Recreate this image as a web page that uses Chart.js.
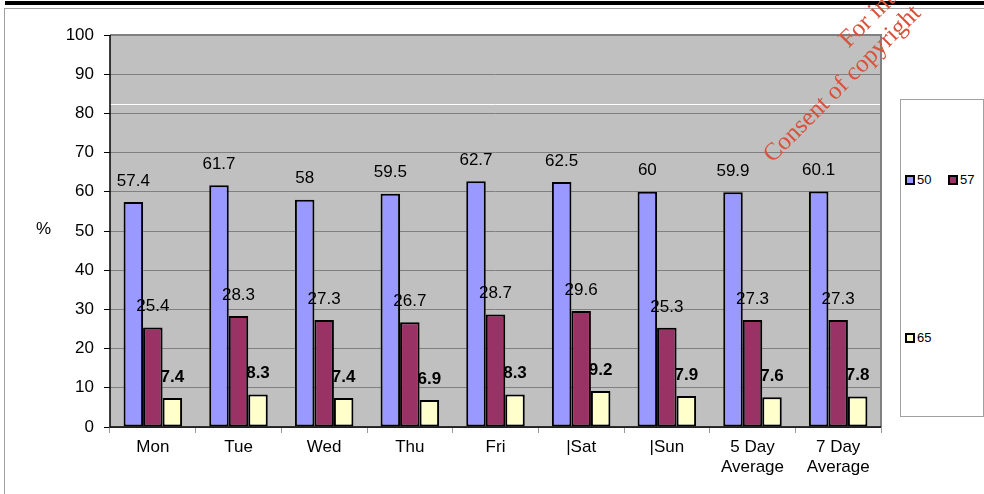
<!DOCTYPE html>
<html><head><meta charset="utf-8">
<script src="https://cdn.jsdelivr.net/npm/chart.js@4/dist/chart.umd.min.js"></script>
<style>
html,body{margin:0;padding:0;background:#fff;}
#wrap{position:relative;width:984px;height:494px;overflow:hidden;font-family:"Liberation Sans",Arial,sans-serif;}
#c{position:absolute;left:0;top:0;}
.abs{position:absolute;}
</style></head>
<body><div id="wrap">
<div class="abs" style="left:5px;top:1px;width:979px;height:4px;background:#000"></div>
<div class="abs" style="left:4px;top:8px;width:980px;height:1px;background:#a0a0a0"></div>
<div class="abs" style="left:4px;top:8px;width:1px;height:486px;background:#a0a0a0"></div>
<canvas id="c" width="984" height="494"></canvas>
<div class="abs" style="left:36px;top:219px;font-size:17px;color:#000">%</div>
<div class="abs" style="left:900px;top:99px;width:82px;height:316px;border:1px solid #a0a0a0;background:#fff"></div>
<div id="legend"></div>
<div class="abs" style="left:833px;top:33px;transform:rotate(-45deg);transform-origin:0 0;font-family:'Liberation Serif',serif;font-size:25px;color:#d9513a;white-space:nowrap">For internal</div>
<div class="abs" style="left:757px;top:148px;transform:rotate(-45deg);transform-origin:0 0;font-family:'Liberation Serif',serif;font-size:25px;color:#d9513a;white-space:nowrap">Consent of copyright</div>
</div>
<script>
const categories = ['Mon','Tue','Wed','Thu','Fri','|Sat','|Sun',['5 Day','Average'],['7 Day','Average']];
const seriesNames = ['50','57','65'];
const s50 = [57.4,61.7,58,59.5,62.7,62.5,60,59.9,60.1];
const s57 = [25.4,28.3,27.3,26.7,28.7,29.6,25.3,27.3,27.3];
const s65 = [7.4,8.3,7.4,6.9,8.3,9.2,7.9,7.6,7.8];
const yTicks = [0,10,20,30,40,50,60,70,80,90,100];
const whiteLineValue = 82.5;

const colors = ['#9999ff','#993366','#ffffcc'];
const FONT = '"Liberation Sans", Arial, sans-serif';

const legendPos = [[905,172],[948,172],[905,330]];
const lg = document.getElementById('legend');
seriesNames.forEach((n,i)=>{
  const d = document.createElement('div');
  d.className='abs';
  d.style.left=legendPos[i][0]+'px'; d.style.top=legendPos[i][1]+'px';
  d.style.fontSize='13px'; d.style.display='flex'; d.style.alignItems='center';
  d.innerHTML='<span style="display:inline-block;width:6px;height:6px;border:2px solid #000;background:'+colors[i]+';margin-right:2px"></span>'+n;
  lg.appendChild(d);
});

const bgPlugin = {
  id:'bg',
  beforeDraw(chart){
    const {ctx, chartArea:a} = chart;
    ctx.save();
    ctx.fillStyle='#c0c0c0';
    ctx.fillRect(a.left,a.top,a.right-a.left,a.bottom-a.top);
    ctx.restore();
  },
  afterDatasetsDraw(chart){
    const {ctx, chartArea:a, scales} = chart;
    ctx.save();
    const wy = Math.round(scales.y.getPixelForValue(whiteLineValue))+0.5;
    ctx.strokeStyle='#ffffff'; ctx.lineWidth=1;
    ctx.beginPath(); ctx.moveTo(a.left,wy); ctx.lineTo(a.right,wy); ctx.stroke();
    ctx.strokeStyle='#808080'; ctx.lineWidth=2;
    ctx.beginPath(); ctx.moveTo(a.left,a.top); ctx.lineTo(a.right,a.top); ctx.lineTo(a.right,a.bottom); ctx.stroke();
    ctx.strokeStyle='#000'; ctx.lineWidth=1.5;
    ctx.beginPath(); ctx.moveTo(a.left,a.top); ctx.lineTo(a.left,a.bottom); ctx.lineTo(a.right,a.bottom); ctx.stroke();
    ctx.fillStyle='#000'; ctx.textAlign='center'; ctx.textBaseline='middle';
    chart.data.datasets.forEach((ds,di)=>{
      const meta = chart.getDatasetMeta(di);
      ctx.font = (di===2?'bold ':'')+'17px '+FONT;
      meta.data.forEach((el,i)=>{
        ctx.fillText(String(ds.data[i]), el.x, el.y-21);
      });
    });
    ctx.restore();
  }
};

const dsCommon = {borderColor:'#000',borderWidth:2,borderSkipped:false,barThickness:19.5,inflateAmount:0};

new Chart(document.getElementById('c'),{
  type:'bar',
  data:{
    labels:categories,
    datasets:[
      Object.assign({label:seriesNames[0],data:s50,backgroundColor:colors[0]},dsCommon),
      Object.assign({label:seriesNames[1],data:s57,backgroundColor:colors[1]},dsCommon),
      Object.assign({label:seriesNames[2],data:s65,backgroundColor:colors[2]},dsCommon)
    ]
  },
  options:{
    responsive:false, animation:false, devicePixelRatio:1,
    layout:{padding:{left:0,top:35,right:103,bottom:0}},
    plugins:{legend:{display:false},tooltip:{enabled:false}},
    scales:{
      y:{
        min:0,max:100,
        afterFit(s){s.width=110;},
        afterBuildTicks(s){s.ticks=yTicks.map(v=>({value:v}));},
        ticks:{color:'#000',font:{size:17,family:FONT},padding:10},
        grid:{color:'#808080',lineWidth:1,tickLength:6,tickColor:'#000'},
        border:{display:false}
      },
      x:{
        afterFit(s){s.height=67;},
        ticks:{color:'#000',font:{size:17,family:FONT,lineHeight:1.13},padding:5,maxRotation:0,autoSkip:false},
        grid:{drawOnChartArea:false,tickLength:6,tickColor:'#999',offset:true},
        border:{display:false}
      }
    }
  },
  plugins:[bgPlugin]
});
</script>
</body></html>
